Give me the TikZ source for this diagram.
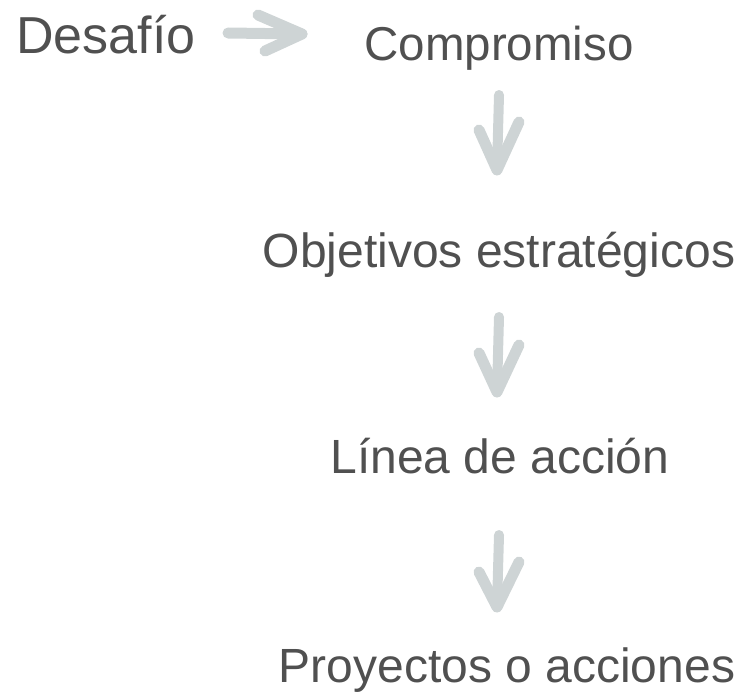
\documentclass[tikz,border=0pt]{standalone}
\usepackage{fontspec}
\setmainfont{Liberation Sans}
\definecolor{txt}{RGB}{80,80,80}
\definecolor{arr}{RGB}{206,212,213}
\tikzset{
  lbl/.style={anchor=base, inner sep=0pt, text=txt, font=\fontsize{48}{56}\selectfont},
  brush/.style={draw=arr, line width=10pt, line cap=round, line join=round},
}
\begin{document}
\begin{tikzpicture}[x=1pt,y=-1pt]
\useasboundingbox (0,0) rectangle (741,693);
\node[lbl, font=\fontsize{52}{60}\selectfont] (des) at (106,53) {Desafío};
\node[lbl, font=\fontsize{47.5}{56}\selectfont] (com) at (499,60) {Compromiso};
\node[lbl] (obj) at (499,267) {Objetivos estratégicos};
\node[lbl] (lin) at (500,473) {Línea de acción};
\node[lbl] (pro) at (507,682) {Proyectos o acciones};
% horizontal arrow
\coordinate (h0) at (228,33);
\coordinate (h1) at (302,34);
\coordinate (hu) at (258,15);
\coordinate (hl) at (265,51);
\draw[brush, line width=11pt] (h0) -- (h1);
\draw[brush, line width=11pt] (hu) -- (h1) -- (hl);
% down arrows
\foreach \i/\t/\b/\l/\r in {1/95/170/130/122, 2/317/392/353/345, 3/535/607/572/562}{
  \coordinate (s\i) at (499,\t);
  \coordinate (e\i) at (497,\b);
  \coordinate (al\i) at (479,\l);
  \coordinate (ar\i) at (519,\r);
  \draw[brush] (s\i) -- (e\i);
  \draw[brush, line width=11pt] (al\i) -- (e\i) -- (ar\i);
}
\end{tikzpicture}
\end{document}
